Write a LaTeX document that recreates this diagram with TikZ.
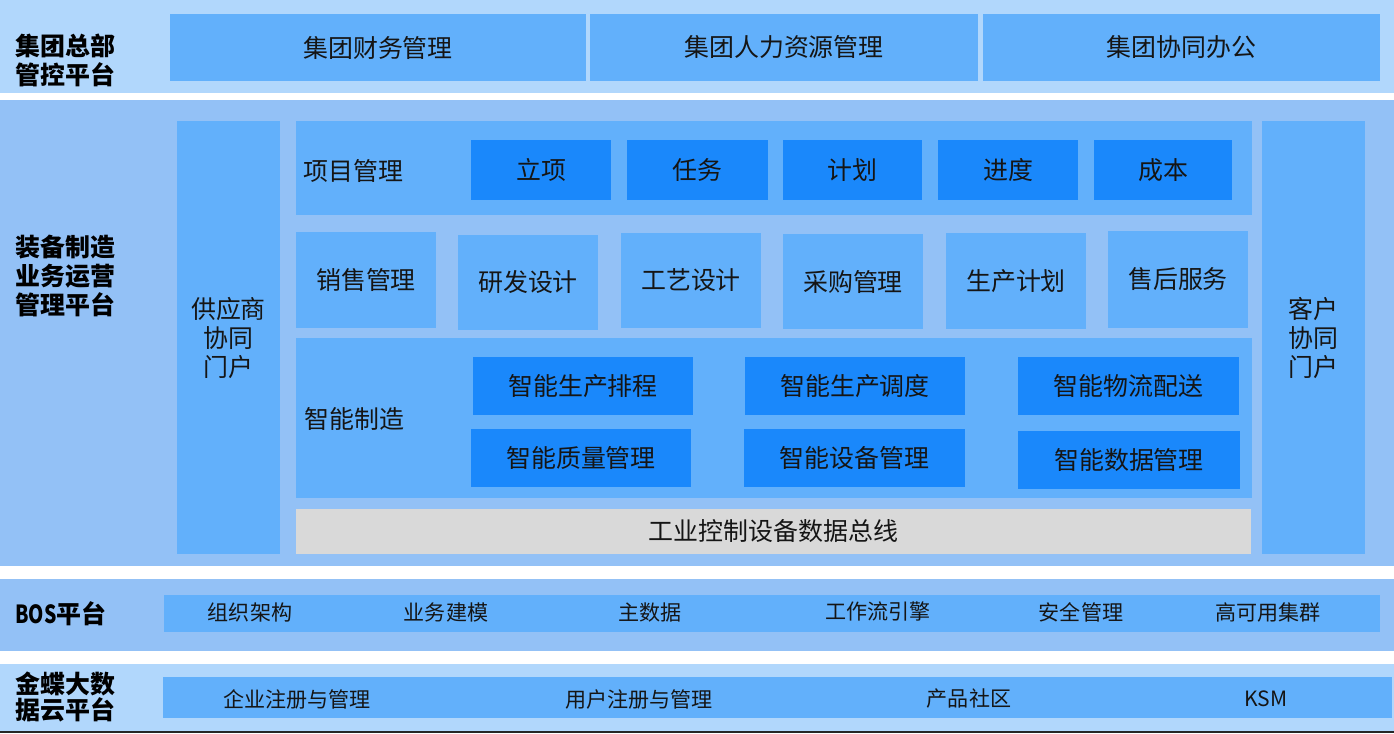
\documentclass[tikz,border=0pt]{standalone}
\usepackage{fontspec}
\setmainfont{Noto Sans CJK SC}
\definecolor{bandlight}{HTML}{B1D7FC}
\definecolor{bandmid}{HTML}{93C1F6}
\definecolor{cellblue}{HTML}{62B0FB}
\definecolor{darkblue}{HTML}{1A88FB}
\definecolor{busgray}{HTML}{D9D9D9}
\definecolor{inkcol}{HTML}{151515}
% \bx{name}{x1}{y1}{x2}{y2}{style}{text}
\newcommand\bx[7]{\node[#6, minimum width={(#4-#2)*0.75pt}, minimum height={(#5-#3)*0.75pt}] (#1) at ({(#2+#4)/2},{(#3+#5)/2}) {#7};}
\begin{document}
\begin{tikzpicture}[x=0.75pt,y=-0.75pt,
  base/.style={inner sep=0pt, outer sep=0pt, draw=none, text=inkcol, align=center},
  bandL/.style={base, fill=bandlight},
  bandM/.style={base, fill=bandmid},
  cell/.style={base, fill=cellblue, font=\fontsize{18.7}{21.75}\selectfont},
  dcell/.style={base, fill=darkblue, font=\fontsize{18.7}{21.75}\selectfont},
  strip/.style={base, fill=cellblue},
  bus/.style={base, fill=busgray, font=\fontsize{18.7}{21.75}\selectfont},
  plabel/.style={inner sep=0pt, anchor=west, align=left, text=black, font=\fontsize{18.7}{21.75}\selectfont\bfseries},
  inlabel/.style={inner sep=0pt, anchor=west, text=inkcol, font=\fontsize{18.7}{21.75}\selectfont},
  small/.style={inner sep=0pt, text=inkcol, font=\fontsize{15.8}{18}\selectfont}
]
\useasboundingbox[fill=white] (0,0) rectangle (1394,733);
% bands
\bx{b1}{0}{0}{1394}{93}{bandL}{}
\bx{b2}{0}{100}{1394}{566}{bandM}{}
\bx{b3}{0}{579}{1394}{651}{bandM}{}
\bx{b4}{0}{664}{1394}{731}{bandL}{}
\path[draw=black!85, line width=1.2pt] (0,732.2) -- (1394,732.2);
% band 1
\node[plabel] (l1) at (15,60) {集团总部\\管控平台};
\bx{c11}{170}{14}{586}{81}{cell}{集团财务管理}
\bx{c12}{590}{14}{978}{81}{cell}{集团人力资源管理}
\bx{c13}{983}{14}{1380}{81}{cell}{集团协同办公}
% band 2
\node[plabel] (l2) at (15,276) {装备制造\\业务运营\\管理平台};
\bx{sup}{177}{121}{280}{554}{cell}{供应商\\协同\\门户}
\bx{cus}{1262}{121}{1365}{554}{cell}{客户\\协同\\门户}
\bx{pm}{296}{121}{1252}{215}{strip}{}
\node[inlabel] (pmt) at (303,171) {项目管理};
\bx{p1}{471}{140}{611}{200}{dcell}{立项}
\bx{p2}{627}{140}{768}{200}{dcell}{任务}
\bx{p3}{783}{140}{922}{200}{dcell}{计划}
\bx{p4}{938}{140}{1078}{200}{dcell}{进度}
\bx{p5}{1094}{140}{1232}{200}{dcell}{成本}
\bx{r1}{296}{232}{436}{328}{cell}{销售管理}
\bx{r2}{458}{235}{598}{330}{cell}{研发设计}
\bx{r3}{621}{233}{761}{328}{cell}{工艺设计}
\bx{r4}{783}{234}{923}{329}{cell}{采购管理}
\bx{r5}{946}{233}{1086}{329}{cell}{生产计划}
\bx{r6}{1108}{231}{1248}{328}{cell}{售后服务}
\bx{im}{296}{338}{1252}{498}{strip}{}
\node[inlabel] (imt) at (304,419) {智能制造};
\bx{i1}{473}{357}{693}{415}{dcell}{智能生产排程}
\bx{i2}{745}{357}{965}{415}{dcell}{智能生产调度}
\bx{i3}{1018}{357}{1239}{415}{dcell}{智能物流配送}
\bx{i4}{471}{429}{691}{487}{dcell}{智能质量管理}
\bx{i5}{744}{429}{965}{487}{dcell}{智能设备管理}
\bx{i6}{1018}{431}{1240}{489}{dcell}{智能数据管理}
\bx{busbar}{296}{509}{1251}{554}{bus}{工业控制设备数据总线}
% band 3
\node[plabel] (l3) at (15,614) {\scalebox{0.78}[1]{BOS}平台};
\bx{bos}{164}{595}{1380}{632}{strip}{}
\node[small] (o1) at (250,612) {组织架构};
\node[small] (o2) at (446,612) {业务建模};
\node[small] (o3) at (650,612) {主数据};
\node[small] (o4) at (878,611) {工作流引擎};
\node[small] (o5) at (1081,612) {安全管理};
\node[small] (o6) at (1268,612) {高可用集群};
% band 4
\node[plabel, font=\fontsize{18.7}{19.5}\selectfont\bfseries] (l4) at (15,697) {金蝶大数\\据云平台};
\bx{kd}{163}{677}{1392}{718}{strip}{}
\node[small] (k1) at (297,699) {企业注册与管理};
\node[small] (k2) at (639,699) {用户注册与管理};
\node[small] (k3) at (969,699) {产品社区};
\node[small] (k4) at (1266,699) {KSM};
\end{tikzpicture}
\end{document}
